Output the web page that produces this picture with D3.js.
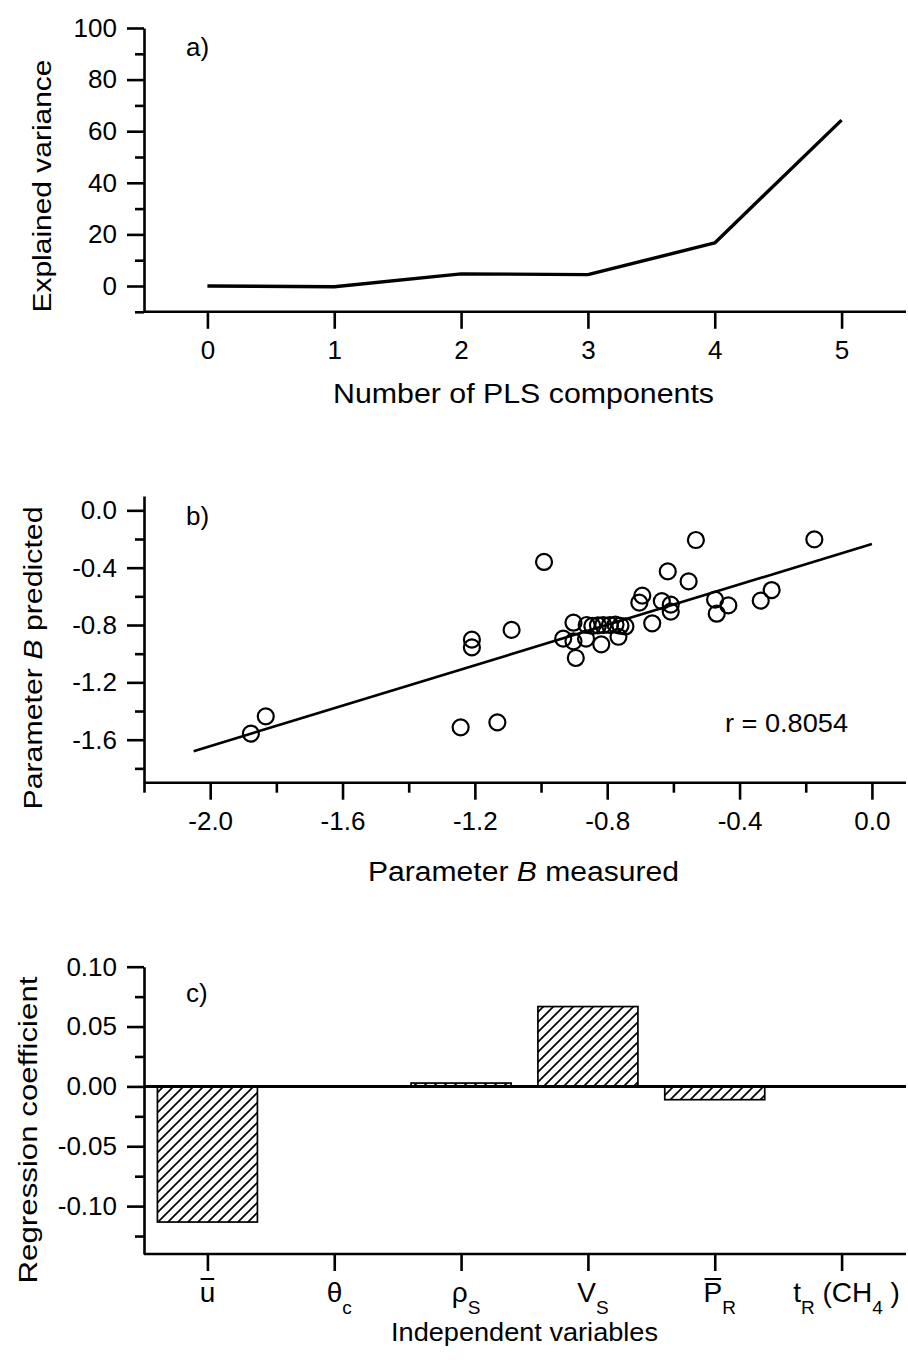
<!DOCTYPE html>
<html>
<head>
<meta charset="utf-8">
<script src="https://cdn.jsdelivr.net/npm/d3@7"></script>
<style>
body { margin: 0; background: #fff; }
svg { display: block; font-family: "Liberation Sans", Arial, sans-serif; }
</style>
</head>
<body>
<svg id="chart" width="908" height="1362"></svg>
<script>
// ---- panel a: explained variance vs number of PLS components
var plsComponents = [0, 1, 2, 3, 4, 5];
var explainedVariance = [0, -0.3, 4.7, 4.4, 16.7, 64.3];
var aYTicks = [0, 20, 40, 60, 80, 100];
var aYMinor = [-10, 10, 30, 50, 70, 90];

// ---- panel b: predicted vs measured parameter B
var measuredB = [-1.877, -1.832, -1.243, -1.132, -1.209, -1.209, -1.089, -0.991, -0.532, -0.174,
    -0.617, -0.554, -0.694, -0.703, -0.635, -0.608, -0.608, -0.664, -0.474, -0.434, -0.469, -0.336, -0.303,
    -0.902, -0.933, -0.902, -0.895, -0.864, -0.862, -0.845, -0.828, -0.812, -0.792, -0.775, -0.760,
    -0.818, -0.766, -0.745];
var predictedB = [-1.558, -1.437, -1.514, -1.479, -0.902, -0.956, -0.834, -0.360, -0.207, -0.203,
    -0.426, -0.496, -0.595, -0.644, -0.633, -0.658, -0.707, -0.788, -0.623, -0.663, -0.721, -0.630, -0.556,
    -0.784, -0.895, -0.914, -1.030, -0.895, -0.800, -0.806, -0.802, -0.800, -0.800, -0.797, -0.805,
    -0.935, -0.882, -0.810];
var fitX = [-2.05, 0.0];
var fitY = [-1.68, -0.235];
var rLabel = "r = 0.8054";
var bXTicks = [-2.0, -1.6, -1.2, -0.8, -0.4, 0.0];
var bXMinor = [-2.2, -1.8, -1.4, -1.0, -0.6, -0.2];
var bYTicks = [0.0, -0.4, -0.8, -1.2, -1.6];
var bYMinor = [-0.2, -0.6, -1.0, -1.4, -1.8];

// ---- panel c: regression coefficients per independent variable
var variables = ["u", "θ_c", "ρ_S", "V_S", "P_R", "t_R (CH_4 )"];
var overbar = [true, false, false, false, true, false];
var coefficients = [-0.1133, 0, 0.0028, 0.0667, -0.0111, 0];
var cYTicks = [0.10, 0.05, 0.00, -0.05, -0.10];
var cYMinor = [0.075, 0.025, -0.025, -0.075, -0.125];

const svg = d3.select("#chart");
const left = 144, right = 905;

const defs = svg.append("defs");
defs.append("pattern")
    .attr("id", "hatch")
    .attr("patternUnits", "userSpaceOnUse")
    .attr("width", 10).attr("height", 10)
  .append("path")
    .attr("d", "M-2,2 L2,-2 M0,10 L10,0 M8,12 L12,8")
    .attr("stroke", "#000")
    .attr("stroke-width", 1.7);

function styleAxis(g, size) {
    g.attr("font-family", null).attr("font-size", null);
    g.selectAll("path, line").attr("stroke", "#000").attr("stroke-width", 2.6);
    g.selectAll("text").attr("fill", "#000").style("font-size", size + "px");
}

function leftAxis(scale, major, minor, fmt) {
    svg.append("g")
        .attr("transform", `translate(${left},0)`)
        .call(d3.axisLeft(scale).tickValues(minor).tickSize(9).tickSizeOuter(0).tickFormat(""))
        .call(g => g.select(".domain").remove())
        .call(g => styleAxis(g, 26));
    svg.append("g")
        .attr("transform", `translate(${left},0)`)
        .call(d3.axisLeft(scale).tickValues(major).tickSize(17).tickSizeOuter(0).tickPadding(10).tickFormat(fmt))
        .call(g => styleAxis(g, 26));
}

function bottomAxis(scale, y, major, minor, fmt) {
    if (minor) {
        svg.append("g")
            .attr("transform", `translate(0,${y})`)
            .call(d3.axisBottom(scale).tickValues(minor).tickSize(10).tickSizeOuter(0).tickFormat(""))
            .call(g => g.select(".domain").remove())
            .call(g => styleAxis(g, 26));
    }
    svg.append("g")
        .attr("transform", `translate(0,${y})`)
        .call(d3.axisBottom(scale).tickValues(major).tickSize(17).tickSizeOuter(0).tickPadding(12).tickFormat(fmt))
        .call(g => g.select(".domain").attr("d", `M${left},0H906`))
        .call(g => styleAxis(g, 26));
}

function yTitle(x, y, len, size, parts) {
    const t = svg.append("text")
        .attr("transform", `translate(${x},${y}) rotate(-90)`)
        .attr("text-anchor", "middle")
        .attr("textLength", len)
        .attr("lengthAdjust", "spacingAndGlyphs")
        .style("font-size", size + "px");
    parts.forEach(p => t.append("tspan").attr("font-style", p[1] ? "italic" : null).text(p[0]));
}

function xTitle(x0, y, len, size, parts) {
    const t = svg.append("text")
        .attr("x", x0).attr("y", y)
        .attr("textLength", len)
        .attr("lengthAdjust", "spacingAndGlyphs")
        .style("font-size", size + "px");
    parts.forEach(p => t.append("tspan").attr("font-style", p[1] ? "italic" : null).text(p[0]));
}

function panelTag(y, s) {
    svg.append("text").attr("x", 186).attr("y", y).style("font-size", "26px").text(s);
}

// ================= panel a
const xA = d3.scaleLinear().domain([-0.5, 5.5]).range([left, right]);
const yA = d3.scaleLinear().domain([-10, 100]).range([311.8, 28]);

leftAxis(yA, aYTicks, aYMinor, d3.format("d"));
bottomAxis(xA, yA(-10), plsComponents, null, d3.format("d"));

svg.append("path")
    .datum(plsComponents.map((c, i) => [c, explainedVariance[i]]))
    .attr("fill", "none")
    .attr("stroke", "#000")
    .attr("stroke-width", 3.4)
    .attr("stroke-linejoin", "round")
    .attr("d", d3.line().x(d => xA(d[0])).y(d => yA(d[1])));

panelTag(56, "a)");
yTitle(51, 186, 253, 25, [["Explained variance", false]]);
xTitle(333, 403, 381, 27, [["Number of PLS components", false]]);

// ================= panel b
const xB = d3.scaleLinear().domain([-2.2, 0.1]).range([left, right]);
const yB = d3.scaleLinear().domain([-1.9, 0.1]).range([782.7, 496]);

leftAxis(yB, bYTicks, bYMinor, d => d.toFixed(1));
bottomAxis(xB, yB(-1.9), bXTicks, bXMinor, d => d.toFixed(1));

svg.append("path")
    .datum(fitX.map((x, i) => [x, fitY[i]]))
    .attr("fill", "none")
    .attr("stroke", "#000")
    .attr("stroke-width", 2.6)
    .attr("d", d3.line().x(d => xB(d[0])).y(d => yB(d[1])));

svg.append("g").selectAll("circle")
    .data(measuredB.map((m, i) => [m, predictedB[i]]))
    .enter().append("circle")
    .attr("cx", d => xB(d[0]))
    .attr("cy", d => yB(d[1]))
    .attr("r", 8)
    .attr("fill", "none")
    .attr("stroke", "#000")
    .attr("stroke-width", 2.2);

svg.append("text")
    .attr("x", 725).attr("y", 732)
    .attr("textLength", 123)
    .attr("lengthAdjust", "spacingAndGlyphs")
    .style("font-size", "26px")
    .text(rLabel);

panelTag(525, "b)");
yTitle(42, 658, 303, 25, [["Parameter ", false], ["B", true], [" predicted", false]]);
xTitle(368, 881, 311, 27, [["Parameter ", false], ["B", true], [" measured", false]]);

// ================= panel c
const xC = d3.scaleLinear().domain([-0.5, 5.5]).range([left, right]);
const yC = d3.scaleLinear().domain([-0.14, 0.10]).range([1254, 966.7]);
const barW = 100;

leftAxis(yC, cYTicks, cYMinor, d => d.toFixed(2));
bottomAxis(xC, yC(-0.14), d3.range(variables.length), null, () => "");

svg.append("g").selectAll("rect")
    .data(coefficients.map((v, i) => ({ i: i, v: v })).filter(d => d.v !== 0))
    .enter().append("rect")
    .attr("x", d => xC(d.i) - barW / 2)
    .attr("width", barW)
    .attr("y", d => yC(Math.max(d.v, 0)))
    .attr("height", d => Math.abs(yC(d.v) - yC(0)))
    .attr("fill", "url(#hatch)")
    .attr("stroke", "#000")
    .attr("stroke-width", 1.7);

// zero line
svg.append("line")
    .attr("x1", left).attr("x2", 906)
    .attr("y1", yC(0)).attr("y2", yC(0))
    .attr("stroke", "#000").attr("stroke-width", 3);

// category labels with subscripts and overbars
variables.forEach(function (v, i) {
    const parts = v.split(/_(.)/);
    const t = svg.append("text")
        .attr("x", xC(i) + (i > 0 ? 5 : 0))
        .attr("y", 1302)
        .attr("text-anchor", "middle")
        .style("font-size", "28px");
    let low = false;
    parts.forEach(function (p, k) {
        if (p === "") return;
        const sub = k % 2 === 1;
        const ts = t.append("tspan").text(p);
        if (sub) {
            ts.style("font-size", "19px").attr("dy", 12);
            low = true;
        } else if (low) {
            ts.attr("dy", -12);
            low = false;
        }
    });
    if (overbar[i]) {
        const e = t.node().getExtentOfChar(0);
        svg.append("line")
            .attr("x1", e.x + 1).attr("x2", e.x + e.width - 1)
            .attr("y1", e.y + 2).attr("y2", e.y + 2)
            .attr("stroke", "#000").attr("stroke-width", 2);
    }
});

panelTag(1002, "c)");
yTitle(37, 1130, 307, 26, [["Regression coefficient", false]]);
xTitle(391, 1341, 267, 26, [["Independent variables", false]]);
</script>
</body>
</html>
